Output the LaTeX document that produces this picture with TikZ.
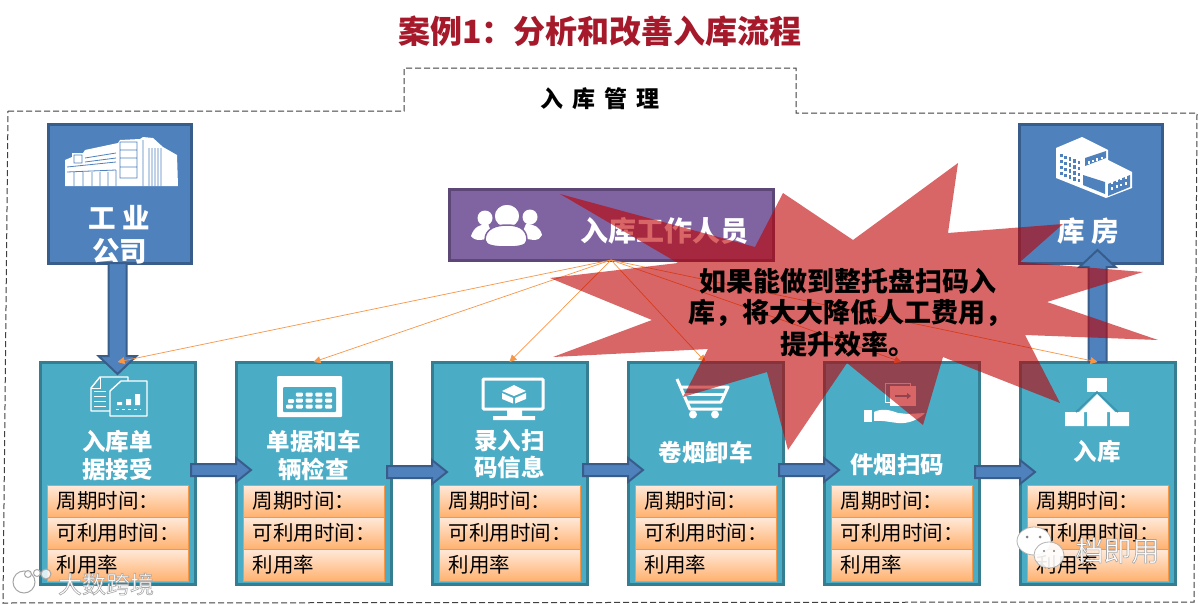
\documentclass[tikz,border=0pt]{standalone}
\usepackage{fontspec}
\setmainfont{Noto Sans CJK SC}
\usetikzlibrary{arrows.meta,calc}
\definecolor{titlered}{HTML}{A5192B}
\definecolor{cardfill}{HTML}{4BACC6}
\definecolor{cardline}{HTML}{357D91}
\definecolor{bluefill}{HTML}{4F81BD}
\definecolor{blueline}{HTML}{385D8A}
\definecolor{purplefill}{HTML}{8064A2}
\definecolor{purpleline}{HTML}{5C4776}
\definecolor{thinorange}{HTML}{F79646}
\definecolor{rowtop}{HTML}{FFEADB}
\definecolor{rowbot}{HTML}{FFB16F}
\definecolor{starred}{HTML}{C00000}
\newcommand{\fs}[1]{\fontsize{#1}{#1}\selectfont}
\newcommand{\outlined}[1]{\special{pdf:code 2 Tr 0.6 w 0.65 G}#1\special{pdf:code 0 Tr 0 G}}
\tikzset{
  cardbox/.style={draw=cardline,fill=cardfill,line width=3pt,minimum width=155pt,minimum height=222pt,inner sep=0pt,outer sep=0pt},
  rowbox/.style={draw=thinorange,line width=.7pt,top color=rowtop,bottom color=rowbot,minimum height=32pt,text width=122pt,inner xsep=9.5pt,inner ysep=4pt,align=left,font=\fs{20.5},text=black,outer sep=0pt},
  topbox/.style={draw=blueline,fill=bluefill,line width=3pt,minimum width=143pt,minimum height=139pt,inner sep=0pt,outer sep=0pt},
  staffbox/.style={draw=purpleline,fill=purplefill,line width=3pt,minimum width=324pt,minimum height=71pt,inner sep=0pt,outer sep=0pt},
  cardlabel/.style={text=white,font=\bfseries\fs{23.5},align=center,inner sep=0pt},
  toplabel/.style={text=white,font=\bfseries\fs{27.5},align=center,inner sep=0pt},
  blockarrow/.style={draw=blueline,fill=bluefill,line width=2pt,line join=miter},
  thinlink/.style={draw=thinorange,line width=.7pt,-{Triangle[length=7pt,width=7pt]}},
  dashframe/.style={draw=black!75,line width=1pt,dash pattern=on 6pt off 3pt},
  icon/.style={fill=white,draw=none},
  iconline/.style={draw=white,line width=1.4pt},
  startext/.style={text=black,font=\bfseries\fs{27},inner sep=0pt},
  wmark/.style={inner sep=0pt,text=white}
}
\newcommand{\rightblock}[3]{%
  \coordinate (A) at (#1.east |- 0,#3);
  \coordinate (B) at (#2.west |- 0,#3);
  \draw[blockarrow] ($(A)+(-4,-6)$) -- ($(B)+(0,-6)$) -- ($(B)+(0,-12)$) -- ($(B)+(15,0)$) -- ($(B)+(0,12)$) -- ($(B)+(0,6)$) -- ($(A)+(-4,6)$) -- cycle;}
\begin{document}
\begin{tikzpicture}[x=1pt,y=-1pt]
\useasboundingbox (0,0) rectangle (1202,605);
\fill[white] (0,0) rectangle (1202,605);
% title
\node[text=titlered,font=\bfseries\fs{32},inner sep=0pt] (title) at (600,31) {案例1：分析和改善入库流程};
% dashed frame
\draw[dashframe] (8,111) -- (404,111) -- (404,68) -- (796,68) -- (796,113) -- (1197,113) -- (1194,602) -- (3,603) -- cycle;
\node[text=black,font=\bfseries\fs{23},inner sep=0pt] (mgmt) at (600,99) {入\hspace{9pt}库\hspace{9pt}管\hspace{9pt}理};
% top boxes
\node[topbox] (comp) at (119.5,193.5) {};
\node[topbox] (store) at (1090.5,193.5) {};
\node[staffbox] (staff) at (611,224.5) {};
% cards
\foreach \n/\cx in {1/117.5,2/313.5,3/509.5,4/705.5,5/901.5,6/1097.5}{
  \node[cardbox] (card\n) at (\cx,473) {};
}
% rows
\foreach \n/\cx in {1/117.5,2/313.5,3/509.5,4/705.5,5/901.5,6/1097.5}{
  \node[rowbox] (rowa\n) at (\cx,501) {周期时间：};
  \node[rowbox] (rowb\n) at (\cx,533) {可利用时间：};
  \node[rowbox] (rowc\n) at (\cx,565) {利用率};
}
% factory icon
\fill[icon] (65,186) -- (65,160) -- (72,157) -- (72,153) -- (83,153) -- (85,150) -- (118,143) -- (120,140) -- (140,139) -- (143,137) -- (153,138) -- (163,147) -- (177,155) -- (178,186) -- cycle;
\draw[bluefill,line width=.8pt] (74,155) rectangle (82,163) (67,167) -- (116,162) (85,158) -- (116,153) (85,162) -- (116,158) (120,142) rectangle (137,178)
  (120,150) -- (137,150) (120,158) -- (137,158) (120,167) -- (137,167) (143,140) -- (143,186)
  (149,148) -- (149,186) (152,148) -- (152,186) (155,148) -- (155,186) (158,148) -- (158,186) (161,148) -- (161,186)
  (67,172) -- (116,170) (74,172) -- (74,186) (83,172) -- (83,186) (92,172) -- (92,186) (100,172) -- (100,186) (108,172) -- (108,186) (116,170) -- (116,186);
\node[toplabel] (complabel) at (119.5,235) {工 业\\[6pt]公司};
% warehouse icon
\fill[icon] (1056,148) -- (1082,137) -- (1108,150) -- (1108,160) -- (1132,172) -- (1132,188) -- (1106,198) -- (1056,178) -- cycle;
\fill[bluefill] (1085,158) -- (1106,151) -- (1106,158) -- (1085,166) -- cycle;
\fill[bluefill] (1083,175) -- (1105,182) -- (1105,194) -- (1083,185) -- cycle;
\fill[bluefill] (1108,184) -- (1130,175) -- (1130,187) -- (1108,196) -- cycle;
\foreach \i in {0,...,4}{\foreach \j in {0,...,3}{
  \fill[bluefill] ({1060+\i*4.4},{154+\i*1.7+\j*6}) rectangle ++(2.6,3.4);}}
\foreach \i in {0,...,3}{\fill[white] ({1088+\i*4.2},{161-\i*1.5}) rectangle ++(2,2.6);
  \fill[white] ({1111+\i*4.6},{187-\i*1.7}) rectangle ++(2,2.6);
  \fill[white] ({1111+\i*4.6},{181-\i*1.7}) rectangle ++(2,2.6);}
\node[toplabel,font=\bfseries\itshape\fs{27.5}] (storelabel) at (1088,231) {库 房};
% people icon
\fill[icon] (485,218) circle[x radius=7.5,y radius=7.5];
\fill[icon] (530,217) circle[x radius=7.5,y radius=7.5];
\fill[icon] (471,236) .. controls (474,227) and (480,224) .. (488,224) -- (494,238) -- (480,240) .. controls (476,240) and (473,239) .. (471,236) -- cycle;
\fill[icon] (542,235) .. controls (540,227) and (534,224) .. (526,224) -- (520,238) -- (534,240) .. controls (538,240) and (541,238) .. (542,235) -- cycle;
\draw[purplefill,fill=white,line width=1.5pt] (507,216) ellipse[x radius=13,y radius=12];
\draw[purplefill,fill=white,line width=1.5pt] (485,240) .. controls (485,228) and (497,225) .. (507,225) .. controls (517,225) and (527,228) .. (527,240) .. controls (527,246) and (518,247) .. (507,247) .. controls (496,247) and (485,246) .. (485,240) -- cycle;
\node[toplabel,font=\bfseries\fs{28}] (stafflabel) at (664,231) {入库工作人员};
% card 1 icon: documents
\draw[iconline,fill=cardfill,line join=round] (91,388) -- (100,377) -- (128,377) -- (128,411) -- (91,411) -- cycle;
\draw[iconline,line width=.9pt] (94,391) -- (106,391) (94,396) -- (106,396) (94,401) -- (106,401) (94,406) -- (106,406) (100,377) -- (100,388) -- (91,388);
\draw[iconline,fill=cardfill,line join=round] (110,391) -- (121,381) -- (147,381) -- (147,416) -- (110,416) -- cycle;
\fill[icon] (117,402) rectangle (122,405) (126,399) rectangle (131,405) (135,394) rectangle (140,405);
\draw[iconline,line width=.9pt,dashed] (116,409) -- (141,409);
% card 2 icon: keyboard
\fill[icon,rounded corners=1pt] (277,376) rectangle (342,417);
\fill[cardfill,rounded corners=1pt] (283,387) rectangle (336,412);
\foreach \i in {1,...,4}{
  \fill[white,rounded corners=1pt] ({286+\i*9.8},392.5) rectangle ++(7,4);
  \fill[white,rounded corners=1pt] ({286+\i*9.8},398.5) rectangle ++(7,4);
  \fill[white,rounded corners=1pt] ({286+\i*9.8-9.8},404.5) rectangle ++(7,4);
}
\fill[white,rounded corners=1pt] (288,399) rectangle ++(6,4);
\fill[white,rounded corners=1pt] (325,404.5) rectangle ++(7,4);
% card 3 icon: monitor
\draw[draw=white,line width=3pt,rounded corners=1pt] (483,379) rectangle (543,409);
\fill[icon] (507,410) rectangle (522,416) (493,416) -- (535,416) -- (535,420) -- (493,420) -- cycle;
\fill[icon] (514,385) -- (526,391) -- (514,396) -- (502,391) -- cycle;
\fill[icon] (502,393) -- (513,398) -- (513,403.5) -- (502,399) -- cycle;
\fill[icon] (526,393) -- (515,398) -- (515,403.5) -- (526,399) -- cycle;
% card 4 icon: cart
\draw[draw=white,line width=3pt,line join=round] (677,379) -- (690,409) -- (722,409);
\draw[draw=white,line width=3pt,line join=round] (681,387) -- (728,387) -- (721,402) -- (686,402);
\draw[draw=white,line width=2.5pt] (684,394.5) -- (724,394.5);
\fill[icon] (693,414.5) circle[radius=4] (715,414.5) circle[radius=4];
% card 5 icon: hand with document
\draw[iconline,line width=1pt] (885,383) rectangle (910,402);
\fill[icon] (890,386) rectangle (916,406);
\draw[cardfill,line width=1.6pt,-{Triangle[length=4pt,width=6pt]}] (895,396) -- (911,396);
\fill[icon] (864,410) rectangle (872,422);
\fill[icon] (874,412) .. controls (882,408) and (890,410) .. (898,413) -- (908,414) -- (925,413) .. controls (918,420) and (908,424) .. (898,423) .. controls (888,422) and (882,420) .. (874,421) -- cycle;
% card 6 icon: hierarchy
\fill[icon] (1087,378) rectangle (1107,392);
\fill[icon] (1065,412) rectangle (1084,426) (1087,412) rectangle (1107,426) (1110,412) rectangle (1129,426);
\fill[icon] (1097,394) -- (1079,412) -- (1115,412) -- cycle;
\draw[cardline!50!cardfill,line width=1.6pt] (1076,412) -- (1097,392) -- (1118,412);
% card labels
\node[cardlabel] (lab1) at (117.5,455.5) {入库单\\[5pt]据接受};
\node[cardlabel] (lab2) at (313.5,455.5) {单据和车\\[5pt]辆检查};
\node[cardlabel] (lab3) at (509.5,454) {录入扫\\[4pt]码信息};
\node[cardlabel] (lab4) at (705.5,452) {卷烟卸车};
\node[cardlabel] (lab5) at (897,465) {件烟扫码};
\node[cardlabel] (lab6) at (1097,452) {入库};
% process arrows
\rightblock{card1}{card2}{470}
\rightblock{card2}{card3}{472}
\rightblock{card3}{card4}{470}
\rightblock{card4}{card5}{470}
\rightblock{card5}{card6}{472}
% vertical arrows
\coordinate (va) at (card1.north |- comp.south);
\coordinate (vb) at (card1.north);
\draw[blockarrow] ($(va)+(-9,0)$) -- ($(vb)+(-9,-6)$) -- ($(vb)+(-19,-6)$) -- ($(vb)+(0,12)$) -- ($(vb)+(19,-6)$) -- ($(vb)+(9,-6)$) -- ($(va)+(9,0)$) -- cycle;
\coordinate (ua) at (card6.north);
\coordinate (ub) at (card6.north |- store.south);
\draw[blockarrow] ($(ua)+(-9,0)$) -- ($(ub)+(-9,4)$) -- ($(ub)+(-18,4)$) -- ($(ub)+(0,-13)$) -- ($(ub)+(18,4)$) -- ($(ub)+(9,4)$) -- ($(ua)+(9,0)$) -- cycle;
% thin links
\foreach \n in {1,...,6}{
  \draw[thinlink] (staff.south) -- (card\n.north);
}
% star
\fill[starred,fill opacity=.6] (560,194) -- (755,247) -- (783,193) -- (853,240) -- (958,163) -- (948,233) -- (1063,224) -- (1020,262) -- (1143,272) -- (1047,302) -- (1158,340) -- (1025,335) -- (1060,403) -- (943,357) -- (923,425) -- (847,363) -- (788,450) -- (767,372) -- (683,397) -- (708,349) -- (553,357) -- (652,320) -- (550,278) -- (678,263) -- cycle;
\node[startext] (stara) at (848,281) {如果能做到整托盘扫码入};
\node[startext] (starb) at (850,313) {库，将大大降低人工费用，};
\node[startext] (starc) at (848,344) {提升效率。};
% watermarks
\draw[black!35,line width=1pt,fill=white,fill opacity=.8] (24,582) circle[radius=11];
\draw[black!35,line width=1pt,fill=white,fill opacity=.8] (28,574) circle[radius=3.5] (37,573) circle[radius=3.5] (46,574) circle[radius=5];
\node[wmark,font=\fs{24}] (wma) at (106,584) {\outlined{大数跨境}};
\draw[black!30,line width=.8pt,fill=white] (1034,541) ellipse[x radius=17,y radius=14];
\draw[black!30,line width=.8pt,fill=white,fill opacity=.9] (1049,555) ellipse[x radius=15,y radius=13];
\fill[black!50] (1027,537) circle[radius=1.5] (1040,537) circle[radius=1.5] (1044,551) circle[radius=1.2] (1054,551) circle[radius=1.2];
\node[wmark,font=\fs{28}] (wmb) at (1117.5,550.5) {\outlined{档即用}};
\end{tikzpicture}
\end{document}
